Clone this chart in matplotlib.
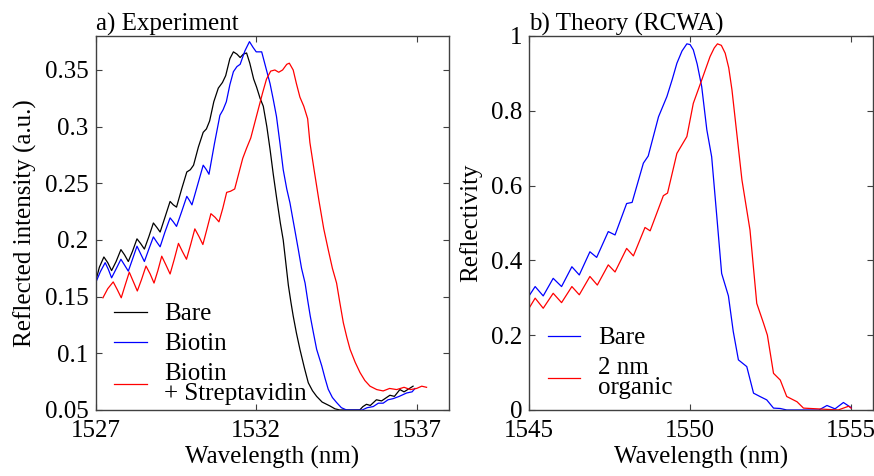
import matplotlib
matplotlib.use("Agg")
import matplotlib.pyplot as plt
from matplotlib.ticker import FuncFormatter

plt.rcParams['font.family'] = 'serif'
plt.rcParams['font.serif'] = ['Liberation Serif', 'Times New Roman', 'DejaVu Serif']

# a) Experiment - wavelength (nm) and reflected intensity (a.u.)
bare_wl = [1527.00, 1527.12, 1527.26, 1527.38, 1527.50, 1527.64, 1527.79, 1527.90, 1528.02, 1528.15,
           1528.29, 1528.40, 1528.52, 1528.66, 1528.80, 1528.91, 1529.01, 1529.16, 1529.32, 1529.42,
           1529.52, 1529.68, 1529.84, 1529.95, 1530.05, 1530.20, 1530.35, 1530.45, 1530.55, 1530.68,
           1530.82, 1530.95, 1531.05, 1531.18, 1531.29, 1531.40, 1531.50, 1531.60, 1531.70, 1531.80,
           1531.92, 1532.01, 1532.12, 1532.22, 1532.33, 1532.43, 1532.53, 1532.63, 1532.75, 1532.84,
           1532.92, 1533.00, 1533.08, 1533.15, 1533.25, 1533.36, 1533.50, 1533.62, 1533.75, 1533.88,
           1534.05, 1534.29, 1534.45, 1534.60, 1535.00, 1535.22, 1535.32, 1535.43, 1535.55, 1535.74,
           1535.90, 1536.16, 1536.30, 1536.47, 1536.60, 1536.88]
bare_int = [0.163, 0.176, 0.185, 0.180, 0.173, 0.181, 0.1915, 0.187, 0.181, 0.190,
            0.201, 0.197, 0.192, 0.203, 0.215, 0.211, 0.207, 0.220, 0.234, 0.231,
            0.229, 0.245, 0.260, 0.262, 0.266, 0.282, 0.295, 0.298, 0.305, 0.322,
            0.334, 0.339, 0.345, 0.360, 0.366, 0.364, 0.361, 0.364, 0.365, 0.356,
            0.342, 0.335, 0.325, 0.318, 0.300, 0.280, 0.258, 0.238, 0.215, 0.200,
            0.180, 0.160, 0.145, 0.133, 0.118, 0.1035, 0.087, 0.074, 0.067, 0.062,
            0.057, 0.0536, 0.051, 0.050, 0.050, 0.050, 0.053, 0.055, 0.054, 0.059,
            0.058, 0.063, 0.062, 0.068, 0.066, 0.071]

biotin_wl = [1527.00, 1527.15, 1527.30, 1527.40, 1527.50, 1527.65, 1527.79, 1527.90, 1528.02, 1528.15,
             1528.29, 1528.40, 1528.52, 1528.66, 1528.80, 1528.91, 1529.01, 1529.16, 1529.32, 1529.42,
             1529.52, 1529.68, 1529.84, 1529.92, 1530.00, 1530.18, 1530.35, 1530.45, 1530.53, 1530.70,
             1530.87, 1530.97, 1531.07, 1531.18, 1531.29, 1531.40, 1531.50, 1531.65, 1531.79, 1531.90,
             1532.00, 1532.17, 1532.30, 1532.43, 1532.53, 1532.63, 1532.74, 1532.84, 1532.95, 1533.05,
             1533.13, 1533.20, 1533.31, 1533.41, 1533.52, 1533.60, 1533.68, 1533.78, 1533.88, 1534.04,
             1534.14, 1534.24, 1534.37, 1534.50, 1534.65, 1534.81, 1535.30, 1535.45, 1535.64, 1535.80,
             1535.95, 1536.10, 1536.26, 1536.45, 1536.68, 1536.85, 1536.94]
biotin_int = [0.162, 0.172, 0.180, 0.174, 0.1666, 0.175, 0.183, 0.178, 0.1725, 0.183,
              0.1945, 0.188, 0.181, 0.192, 0.2027, 0.198, 0.194, 0.207, 0.2195, 0.216,
              0.212, 0.225, 0.2385, 0.235, 0.231, 0.249, 0.266, 0.262, 0.258, 0.285,
              0.310, 0.315, 0.322, 0.337, 0.3485, 0.353, 0.355, 0.367, 0.375, 0.370,
              0.366, 0.366, 0.352, 0.338, 0.324, 0.309, 0.285, 0.262, 0.245, 0.2327,
              0.220, 0.209, 0.1915, 0.175, 0.162, 0.147, 0.133, 0.118, 0.1035, 0.0888,
              0.078, 0.0683, 0.061, 0.0566, 0.052, 0.050, 0.050, 0.052, 0.053, 0.056,
              0.056, 0.059, 0.060, 0.062, 0.065, 0.066, 0.069]

strep_wl = [1527.23, 1527.38, 1527.55, 1527.68, 1527.80, 1527.92, 1528.05, 1528.18, 1528.30, 1528.43,
            1528.57, 1528.70, 1528.82, 1528.94, 1529.06, 1529.19, 1529.32, 1529.45, 1529.58, 1529.70,
            1529.83, 1529.96, 1530.09, 1530.22, 1530.34, 1530.47, 1530.59, 1530.72, 1530.84, 1530.96,
            1531.08, 1531.20, 1531.33, 1531.45, 1531.58, 1531.70, 1531.83, 1531.95, 1532.07, 1532.20,
            1532.32, 1532.45, 1532.58, 1532.70, 1532.82, 1532.95, 1533.03, 1533.15, 1533.25, 1533.36,
            1533.48, 1533.60, 1533.67, 1533.80, 1533.95, 1534.10, 1534.24, 1534.37, 1534.50, 1534.60,
            1534.71, 1534.82, 1534.92, 1535.08, 1535.23, 1535.38, 1535.54, 1535.75, 1535.95, 1536.15,
            1536.37, 1536.60, 1536.80, 1536.99, 1537.15, 1537.30]
strep_int = [0.149, 0.157, 0.163, 0.156, 0.149, 0.160, 0.1716, 0.163, 0.155, 0.165,
             0.177, 0.170, 0.162, 0.173, 0.1857, 0.178, 0.170, 0.183, 0.197, 0.190,
             0.183, 0.196, 0.2098, 0.203, 0.196, 0.210, 0.2232, 0.220, 0.216, 0.228,
             0.242, 0.243, 0.245, 0.258, 0.272, 0.281, 0.290, 0.303, 0.316, 0.330,
             0.342, 0.349, 0.350, 0.348, 0.350, 0.355, 0.356, 0.350, 0.338, 0.326,
             0.318, 0.307, 0.286, 0.262, 0.235, 0.210, 0.1915, 0.175, 0.162, 0.145,
             0.127, 0.114, 0.1035, 0.092, 0.083, 0.076, 0.071, 0.068, 0.0668, 0.069,
             0.068, 0.070, 0.068, 0.069, 0.071, 0.070]

# b) Theory (RCWA) - wavelength (nm) and reflectivity
th_bare_wl = [1545.00, 1545.19, 1545.44, 1545.75, 1546.01, 1546.33, 1546.56, 1546.89, 1547.10, 1547.46,
              1547.67, 1548.03, 1548.20, 1548.55, 1548.70, 1549.02, 1549.28, 1549.45, 1549.59, 1549.75,
              1549.90, 1550.00, 1550.10, 1550.22, 1550.36, 1550.52, 1550.67, 1550.83, 1550.98, 1551.19,
              1551.34, 1551.50, 1551.76, 1551.97, 1552.17, 1552.38, 1552.59, 1552.80, 1553.00, 1554.00,
              1554.25, 1554.50, 1554.76, 1554.97, 1555.00]
th_bare_r = [0.305, 0.330, 0.305, 0.352, 0.330, 0.383, 0.361, 0.423, 0.408, 0.477,
             0.468, 0.552, 0.555, 0.660, 0.679, 0.784, 0.838, 0.885, 0.927, 0.960,
             0.979, 0.977, 0.963, 0.925, 0.865, 0.749, 0.677, 0.517, 0.365, 0.305,
             0.210, 0.134, 0.116, 0.045, 0.036, 0.027, 0.005, 0.004, 0.000, 0.000,
             0.012, 0.003, 0.020, 0.008, 0.006]

th_org_wl = [1545.00, 1545.19, 1545.44, 1545.75, 1546.01, 1546.33, 1546.56, 1546.89, 1547.12, 1547.46,
             1547.67, 1548.03, 1548.24, 1548.60, 1548.76, 1549.17, 1549.30, 1549.59, 1549.90, 1550.10,
             1550.36, 1550.62, 1550.75, 1550.85, 1550.97, 1551.09, 1551.20, 1551.30, 1551.61, 1551.86,
             1552.07, 1552.28, 1552.40, 1552.59, 1552.80, 1553.00, 1553.32, 1553.52, 1554.60, 1554.92,
             1555.00]
th_org_r = [0.272, 0.299, 0.272, 0.312, 0.287, 0.330, 0.308, 0.357, 0.334, 0.388,
            0.369, 0.432, 0.412, 0.488, 0.479, 0.573, 0.580, 0.686, 0.731, 0.820,
            0.882, 0.945, 0.968, 0.979, 0.975, 0.954, 0.915, 0.856, 0.615, 0.481,
            0.285, 0.232, 0.200, 0.098, 0.080, 0.036, 0.022, 0.005, 0.000, 0.010,
            0.005]

FS = 18
LW = 0.9
SPINE = '#404040'


def style_axes(ax):
    for sp in ax.spines.values():
        sp.set_color(SPINE)
        sp.set_linewidth(1.0)
    ax.tick_params(direction='in', top=True, right=True, length=4, width=0.8,
                   color=SPINE, labelsize=FS, pad=5)
    ax.tick_params(axis='x', pad=7)


def legend_below(ax, y0):
    leg = ax.legend(loc='lower left', bbox_to_anchor=(0.0, y0), frameon=False, fontsize=FS,
                    handlelength=1.3, handletextpad=0.7, labelspacing=0.3, borderaxespad=0.35)
    for t in leg.get_texts():
        t.set_linespacing(0.9)
    return leg


fig = plt.figure(figsize=(8.74, 4.76), dpi=100)
ax1 = fig.add_axes([0.1093, 0.1387, 0.4045, 0.7857])
ax2 = fig.add_axes([0.6053, 0.1387, 0.3936, 0.7857])

# left panel
ax1.plot(bare_wl, bare_int, color='k', lw=LW, label='Bare')
ax1.plot(biotin_wl, biotin_int, color='#0000ff', lw=LW, label='Biotin')
ax1.plot(strep_wl, strep_int, color='#ff0000', lw=LW, label='Biotin\n+ Streptavidin')
ax1.set_xlim(1527, 1538)
ax1.set_ylim(0.05, 0.38)
ax1.set_xticks([1527, 1532, 1537])
ax1.set_yticks([0.05, 0.1, 0.15, 0.2, 0.25, 0.3, 0.35])
ax1.yaxis.set_major_formatter(FuncFormatter(lambda v, p: f"{v:g}"))
ax1.set_xlabel('Wavelength (nm)', fontsize=FS, labelpad=3)
ax1.set_ylabel('Reflected intensity (a.u.)', fontsize=FS, labelpad=6)
ax1.set_title('a) Experiment', loc='left', fontsize=FS, pad=4)
style_axes(ax1)
legend_below(ax1, -0.037)

# right panel
ax2.plot(th_bare_wl, th_bare_r, color='#0000ff', lw=LW, label='Bare')
ax2.plot(th_org_wl, th_org_r, color='#ff0000', lw=LW, label='2 nm\norganic')
ax2.set_xlim(1545, 1555.68)
ax2.set_ylim(0, 1)
ax2.set_xticks([1545, 1550, 1555])
ax2.set_yticks([0, 0.2, 0.4, 0.6, 0.8, 1])
ax2.yaxis.set_major_formatter(FuncFormatter(lambda v, p: f"{v:g}"))
ax2.set_xlabel('Wavelength (nm)', fontsize=FS, labelpad=3)
ax2.set_ylabel('Reflectivity', fontsize=FS, labelpad=6)
ax2.set_title('b) Theory (RCWA)', loc='left', fontsize=FS, pad=4)
style_axes(ax2)
legend_below(ax2, -0.021)

fig.savefig('out.png', dpi=100)
